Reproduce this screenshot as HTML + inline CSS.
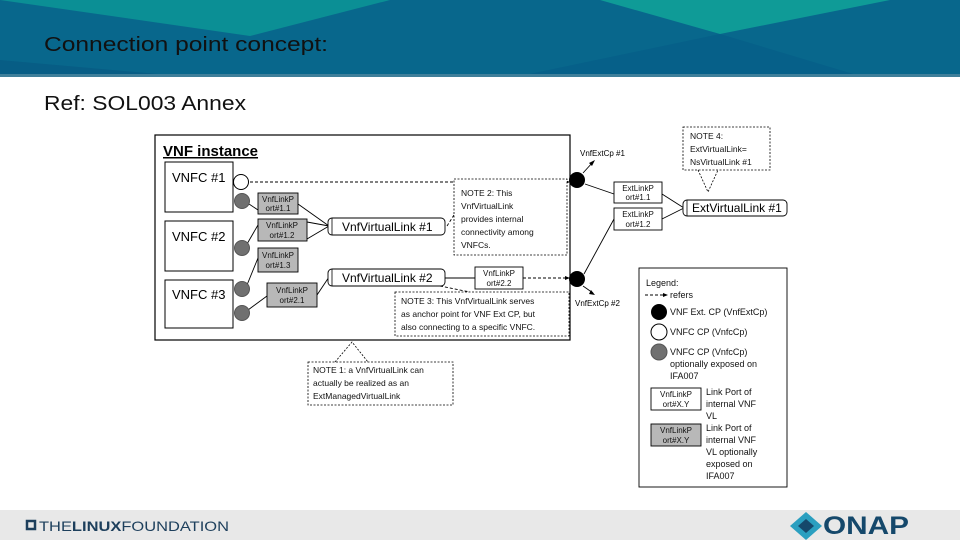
<!DOCTYPE html>
<html><head><meta charset="utf-8"><style>
body{margin:0;width:960px;height:540px;overflow:hidden;background:#fff;font-family:"Liberation Sans",sans-serif}
svg{display:block}
</style></head><body>
<svg width="960" height="540" viewBox="0 0 960 540" xmlns="http://www.w3.org/2000/svg" font-family="Liberation Sans, sans-serif">
<!-- header -->
<rect x="0" y="0" width="960" height="76" fill="#08678c"/>
<polygon points="0,0 390,0 250,36" fill="#0b8f95"/>
<polygon points="600,0 890,0 720,34" fill="#0f9b97"/>
<polygon points="0,76 0,60 180,76" fill="#075d85"/>
<polygon points="520,76 720,34 860,76" fill="#066089"/>
<rect x="0" y="74" width="960" height="3" fill="#3f7f9a"/>
<text x="44" y="51" font-size="20" fill="#111" textLength="284" lengthAdjust="spacingAndGlyphs">Connection point concept:</text>
<text x="44" y="110" font-size="20" fill="#111" textLength="202" lengthAdjust="spacingAndGlyphs">Ref: SOL003 Annex</text>

<g stroke="#000" fill="none" stroke-width="1">
<rect x="155" y="135" width="415" height="205" stroke-width="1.2"/>
<rect x="165" y="162" width="68" height="50"/>
<rect x="165" y="221" width="68" height="50"/>
<rect x="165" y="280" width="68" height="48"/>
</g>
<text x="163" y="156" font-size="15" font-weight="bold" text-decoration="underline">VNF instance</text>
<text x="172" y="182" font-size="13">VNFC #1</text>
<text x="172" y="241" font-size="13">VNFC #2</text>
<text x="172" y="299" font-size="13">VNFC #3</text>

<!-- connectors -->
<g stroke="#000" stroke-width="0.9" fill="none">
<line x1="249" y1="204" x2="258" y2="210"/>
<line x1="247" y1="244" x2="258" y2="225"/>
<line x1="247" y1="285" x2="258" y2="258"/>
<line x1="248" y1="310" x2="267" y2="296"/>
<line x1="298" y1="204" x2="329" y2="226"/>
<line x1="307" y1="222" x2="329" y2="226"/>
<line x1="307" y1="239" x2="329" y2="226"/>
<line x1="317" y1="295" x2="329" y2="277"/>
<line x1="445" y1="278" x2="475" y2="278"/>
<line x1="585" y1="184" x2="614" y2="194"/>
<line x1="584" y1="274" x2="614" y2="219"/>
<line x1="662" y1="194" x2="684" y2="208"/>
<line x1="662" y1="219" x2="684" y2="208"/>
<line x1="583" y1="173" x2="593" y2="162"/>
<line x1="583" y1="286" x2="593" y2="293"/>
</g>
<g fill="#000">
<polygon points="595,160 589,163 592,166"/>
<polygon points="595,295 589,294 591,290"/>
</g>
<g stroke="#000" stroke-width="0.9" fill="none" stroke-dasharray="3,2">
<line x1="250" y1="182" x2="567" y2="182"/>
<line x1="523" y1="278" x2="567" y2="278"/>
<line x1="454" y1="215" x2="447" y2="226"/>
<line x1="440" y1="286" x2="470" y2="292"/>
</g>
<polygon points="570,182 565,180 565,184" fill="#000"/>
<polygon points="570,278 565,276 565,280" fill="#000"/>

<!-- circles -->
<circle cx="241" cy="182" r="7.5" fill="#fff" stroke="#000"/>
<g fill="#707070" stroke="#555">
<circle cx="242" cy="201" r="7.5"/>
<circle cx="242" cy="248" r="7.5"/>
<circle cx="242" cy="289" r="7.5"/>
<circle cx="242" cy="313" r="7.5"/>
</g>
<circle cx="577" cy="180" r="8" fill="#000"/>
<circle cx="577" cy="279" r="8" fill="#000"/>

<!-- link ports -->
<g stroke="#000" stroke-width="0.9">
<rect x="258" y="193" width="40" height="21" fill="#b8b8b8"/>
<rect x="258" y="219" width="49" height="22" fill="#b8b8b8"/>
<rect x="258" y="248" width="40" height="24" fill="#b8b8b8"/>
<rect x="267" y="283" width="50" height="24" fill="#b8b8b8"/>
<rect x="475" y="267" width="48" height="22" fill="#fff"/>
<rect x="614" y="182" width="48" height="21" fill="#fff"/>
<rect x="614" y="208" width="48" height="22" fill="#fff"/>
<rect x="328" y="218" width="117" height="17" rx="4" fill="#fff"/>
<rect x="328" y="269" width="117" height="17" rx="4" fill="#fff"/>
<rect x="683" y="200" width="104" height="16" rx="4" fill="#fff"/>
</g>
<g stroke="#000" fill="none" stroke-width="0.8">
<line x1="332" y1="218" x2="332" y2="235"/>
<line x1="332" y1="269" x2="332" y2="286"/>
<line x1="687" y1="200" x2="687" y2="216"/>
</g>
<g font-size="8" text-anchor="middle" fill="#111">
<text x="278" y="202">VnfLinkP</text><text x="278" y="211">ort#1.1</text>
<text x="282" y="228">VnfLinkP</text><text x="282" y="238">ort#1.2</text>
<text x="278" y="258">VnfLinkP</text><text x="278" y="268">ort#1.3</text>
<text x="292" y="293">VnfLinkP</text><text x="292" y="303">ort#2.1</text>
<text x="499" y="276">VnfLinkP</text><text x="499" y="286">ort#2.2</text>
<text x="638" y="191">ExtLinkP</text><text x="638" y="200">ort#1.1</text>
<text x="638" y="217">ExtLinkP</text><text x="638" y="227">ort#1.2</text>
</g>
<text x="342" y="231" font-size="12">VnfVirtualLink #1</text>
<text x="342" y="282" font-size="12">VnfVirtualLink #2</text>
<text x="692" y="212" font-size="12">ExtVirtualLink #1</text>
<text x="580" y="156" font-size="8">VnfExtCp #1</text>
<text x="575" y="306" font-size="8">VnfExtCp #2</text>

<!-- notes -->
<g stroke="#000" stroke-width="0.8" fill="#fff" stroke-dasharray="2,1.5">
<rect x="454" y="179" width="113" height="76"/>
<rect x="395" y="292" width="174" height="44"/>
<rect x="308" y="362" width="145" height="43"/>
<rect x="683" y="127" width="87" height="43"/>
<polyline points="335,362 352,342 368,362" fill="none"/>
<polyline points="698,170 708,192 718,170" fill="none"/>
</g>
<g font-size="8.5" fill="#111">
<text x="461" y="196">NOTE 2: This</text>
<text x="461" y="209">VnfVirtualLink</text>
<text x="461" y="222">provides internal</text>
<text x="461" y="235">connectivity among</text>
<text x="461" y="248">VNFCs.</text>
<text x="401" y="304">NOTE 3: This VnfVirtualLink serves</text>
<text x="401" y="317">as anchor point for VNF Ext CP, but</text>
<text x="401" y="330">also connecting to a specific VNFC.</text>
<text x="313" y="373">NOTE 1: a VnfVirtualLink can</text>
<text x="313" y="386">actually be realized as an</text>
<text x="313" y="399">ExtManagedVirtualLink</text>
<text x="690" y="139">NOTE 4:</text>
<text x="690" y="152">ExtVirtualLink=</text>
<text x="690" y="165">NsVirtualLink #1</text>
</g>

<!-- legend -->
<rect x="639" y="268" width="148" height="219" fill="#fff" stroke="#000" stroke-width="0.9"/>
<g font-size="9" fill="#111">
<text x="646" y="286">Legend:</text>
<text x="670" y="298">refers</text>
<text x="670" y="315">VNF Ext. CP (VnfExtCp)</text>
<text x="670" y="335">VNFC CP (VnfcCp)</text>
<text x="670" y="355">VNFC CP (VnfcCp)</text>
<text x="670" y="367">optionally exposed on</text>
<text x="670" y="379">IFA007</text>
<text x="706" y="395">Link Port of</text>
<text x="706" y="407">internal VNF</text>
<text x="706" y="419">VL</text>
<text x="706" y="431">Link Port of</text>
<text x="706" y="443">internal VNF</text>
<text x="706" y="455">VL optionally</text>
<text x="706" y="467">exposed on</text>
<text x="706" y="479">IFA007</text>
</g>
<line x1="645" y1="295" x2="664" y2="295" stroke="#000" stroke-dasharray="3,2"/>
<polygon points="668,295 663,293 663,297" fill="#000"/>
<circle cx="659" cy="312" r="8" fill="#000"/>
<circle cx="659" cy="332" r="8" fill="#fff" stroke="#000"/>
<circle cx="659" cy="352" r="8" fill="#707070" stroke="#555"/>
<rect x="651" y="388" width="50" height="22" fill="#fff" stroke="#000" stroke-width="0.9"/>
<rect x="651" y="424" width="50" height="22" fill="#b8b8b8" stroke="#000" stroke-width="0.9"/>
<g font-size="8" text-anchor="middle" fill="#111">
<text x="676" y="397">VnfLinkP</text><text x="676" y="407">ort#X.Y</text>
<text x="676" y="433">VnfLinkP</text><text x="676" y="443">ort#X.Y</text>
</g>

<!-- footer -->
<rect x="0" y="510" width="960" height="30" fill="#e8e8e8"/>
<rect x="27" y="521" width="8" height="8" fill="none" stroke="#1d3f5c" stroke-width="2.5"/>
<text x="39" y="531" font-size="14" fill="#1d3f5c" textLength="190" lengthAdjust="spacingAndGlyphs">THE<tspan font-weight="bold">LINUX</tspan>FOUNDATION</text>
<polygon points="806,512 822,526 806,540 790,526" fill="#2a9fc0"/>
<polygon points="806,519 814,526 806,533 798,526" fill="#15486b"/>
<text x="823" y="534" font-size="25" font-weight="bold" fill="#15486b" textLength="86" lengthAdjust="spacingAndGlyphs">ONAP</text>
</svg>
</body></html>
